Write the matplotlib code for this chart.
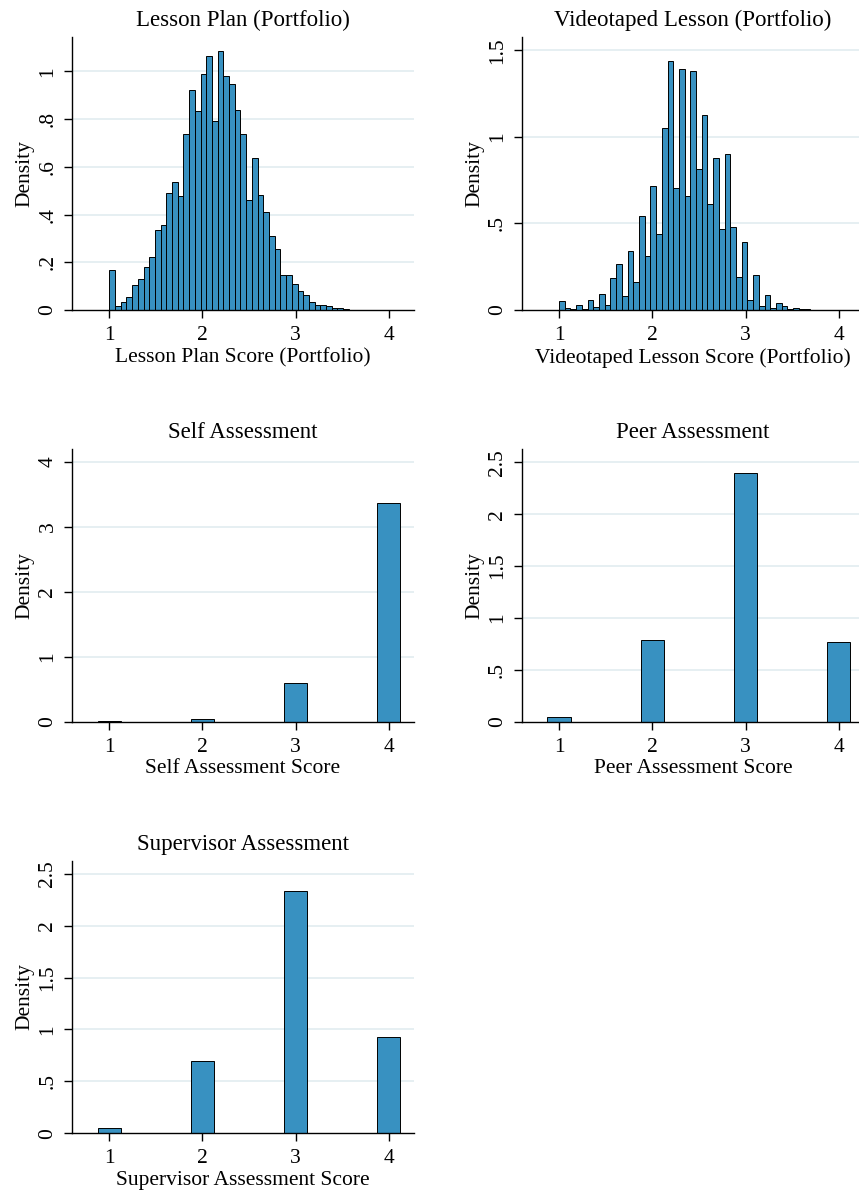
import numpy as np
import matplotlib

matplotlib.use("Agg")
import matplotlib.pyplot as plt

# Continuous portfolio scores: 49 bins between 1 and 4, density per bin
LP_DENS = [0.168, 0.017, 0.035, 0.054, 0.105, 0.130, 0.180, 0.222, 0.334, 0.356,
           0.490, 0.535, 0.479, 0.736, 0.920, 0.834, 0.989, 1.064, 0.792, 1.084,
           0.980, 0.948, 0.837, 0.736, 0.459, 0.638, 0.482, 0.409, 0.310, 0.254,
           0.147, 0.147, 0.108, 0.078, 0.061, 0.032, 0.020, 0.020, 0.015, 0.008,
           0.007, 0.004, 0.002, 0.001, 0.001, 0.0005, 0.0005, 0.0003, 0.0003]
VL_DENS = [0.052, 0.010, 0.004, 0.029, 0.004, 0.060, 0.015, 0.093, 0.029, 0.184,
           0.263, 0.081, 0.342, 0.162, 0.545, 0.313, 0.715, 0.441, 1.050, 1.440,
           0.704, 1.392, 0.657, 1.380, 0.812, 1.125, 0.611, 0.876, 0.470, 0.899,
           0.479, 0.188, 0.392, 0.058, 0.203, 0.025, 0.087, 0.014, 0.043, 0.025,
           0.004, 0.014, 0.004, 0.008, 0.002, 0.002, 0.002, 0.001, 0.002]
SCORE_MIN, SCORE_MAX = 1.0, 4.0

# Discrete assessments (scores 1-4)
SCORES = [1, 2, 3, 4]
SELF_DENS = [0.015, 0.036, 0.59, 3.364]
PEER_DENS = [0.048, 0.790, 2.400, 0.768]
SUP_DENS = [0.051, 0.693, 2.330, 0.927]

BAR = "#3891c1"
GRID = "#e4eef1"

plt.rcParams["font.family"] = ["Liberation Serif", "DejaVu Serif"]

W, H = 859, 1192
fig = plt.figure(figsize=(W / 100, H / 100), dpi=100)


def add_ax(left, top, right, bottom):
    return fig.add_axes([left / W, 1 - bottom / H, (right - left) / W, (bottom - top) / H])


def style(ax, ylim, yticks, ylabels, title, xlabel):
    ax.set_xlim(0.6, 4.27)
    ax.set_ylim(0, ylim)
    ax.set_xticks([1, 2, 3, 4])
    ax.set_yticks(yticks)
    ax.set_yticklabels(ylabels, rotation=90, va="center")
    for y in yticks[1:]:
        ax.axhline(y, color=GRID, lw=1.3, zorder=0)
    for s in ("top", "right"):
        ax.spines[s].set_visible(False)
    for s in ("left", "bottom"):
        ax.spines[s].set_linewidth(1.0)
    ax.tick_params(direction="out", length=6, width=1.0, labelsize=15.5)
    ax.tick_params(axis="x", pad=5.5)
    ax.tick_params(axis="y", pad=4.5)
    ax.set_title(title, fontsize=16.5, pad=8)
    ax.set_ylabel("Density", fontsize=15.5, labelpad=3)
    ax.set_xlabel(xlabel, fontsize=15.5, labelpad=2)


def cont_hist(ax, dens):
    edges = np.linspace(SCORE_MIN, SCORE_MAX, len(dens) + 1)
    ax.bar(edges[:-1], dens, width=np.diff(edges), align="edge",
           color=BAR, edgecolor="black", linewidth=0.7, zorder=2)


def disc_hist(ax, dens):
    ax.bar(SCORES, dens, width=0.25, color=BAR, edgecolor="black",
           linewidth=0.7, zorder=2)


ax1 = add_ax(72, 37, 414, 310)
cont_hist(ax1, LP_DENS)
style(ax1, 1.144, [0, 0.2, 0.4, 0.6, 0.8, 1.0], ["0", ".2", ".4", ".6", ".8", "1"],
      "Lesson Plan (Portfolio)", "Lesson Plan Score (Portfolio)")

ax2 = add_ax(521.7, 37, 864, 310)
cont_hist(ax2, VL_DENS)
style(ax2, 1.577, [0, 0.5, 1.0, 1.5], ["0", ".5", "1", "1.5"],
      "Videotaped Lesson (Portfolio)", "Videotaped Lesson Score (Portfolio)")

ax3 = add_ax(72, 449.3, 414, 721.7)
disc_hist(ax3, SELF_DENS)
style(ax3, 4.196, [0, 1, 2, 3, 4], ["0", "1", "2", "3", "4"],
      "Self Assessment", "Self Assessment Score")

ax4 = add_ax(521.7, 449.3, 864, 721.7)
disc_hist(ax4, PEER_DENS)
style(ax4, 2.627, [0, 0.5, 1, 1.5, 2, 2.5], ["0", ".5", "1", "1.5", "2", "2.5"],
      "Peer Assessment", "Peer Assessment Score")

ax5 = add_ax(72, 860.7, 414, 1133.3)
disc_hist(ax5, SUP_DENS)
style(ax5, 2.625, [0, 0.5, 1, 1.5, 2, 2.5], ["0", ".5", "1", "1.5", "2", "2.5"],
      "Supervisor Assessment", "Supervisor Assessment Score")

fig.savefig("out.png", dpi=100)
